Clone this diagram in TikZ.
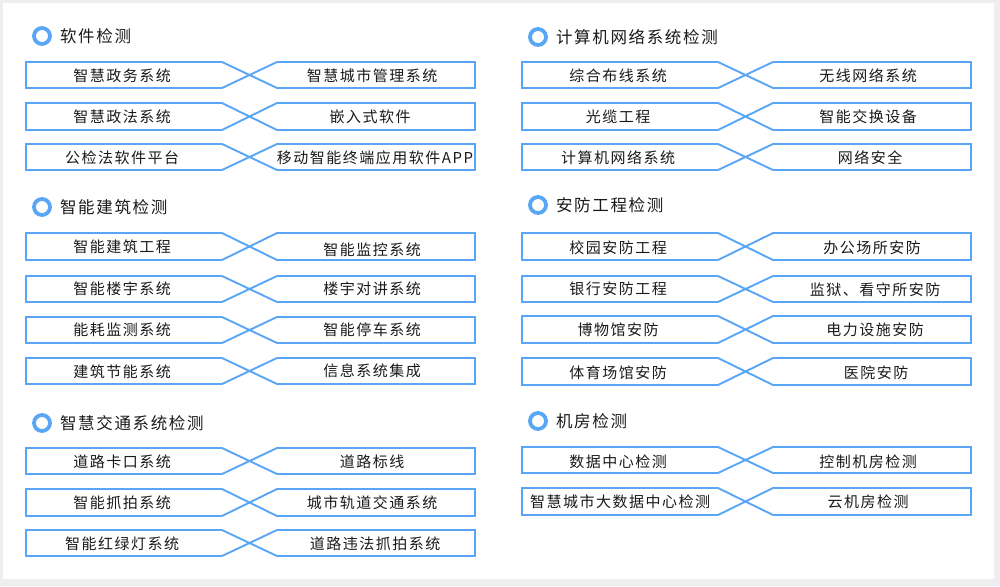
\documentclass[tikz,border=0pt]{standalone}
\usepackage{fontspec}
\setmainfont{Noto Sans CJK SC}
\newfontfamily\cjk[LetterSpace=10]{Noto Sans CJK SC}
\usetikzlibrary{positioning}

\definecolor{lineblue}{HTML}{5AA6F6}
\definecolor{txtgray}{HTML}{1A1A1A}
\definecolor{pagegray}{HTML}{EEEEF0}

% one pair: column offset, top, bottom
\newcommand{\crossbox}[3]{%
  \draw[pairline] (#1+26,-#2) -- (#1+222,-#2) -- (#1+277,-#3) -- (#1+475,-#3)
    -- (#1+475,-#2) -- (#1+277,-#2) -- (#1+222,-#3) -- (#1+26,-#3) -- cycle;}

\begin{document}
\begin{tikzpicture}[x=1pt,y=1pt,
    every node/.style={inner sep=0pt},
    pairline/.style={draw=lineblue,line width=1.9pt,line join=miter},
    item/.style={font=\cjk\fontsize{15}{15}\selectfont,text=txtgray},
    ring/.style={circle,draw=lineblue,line width=3.8pt,minimum size=16pt},
    heading/.style={font=\cjk\fontsize{16.5}{16.5}\selectfont,text=txtgray,anchor=west}]
			\fill[pagegray] (0,0) rectangle (1000,-586);
			\fill[white] (3,-3) rectangle (994,-579);
			% section heads
			\node[ring] (sw) at (42,-36) {};
			\node[heading,right=8pt of sw] (swhead) {软件检测};
			\node[ring] (bd) at (42,-207) {};
			\node[heading,right=8pt of bd] (bdhead) {智能建筑检测};
			\node[ring] (tf) at (42,-423) {};
			\node[heading,right=8pt of tf] (tfhead) {智慧交通系统检测};
			\node[ring] (nw) at (538,-37) {};
			\node[heading,right=8pt of nw] (nwhead) {计算机网络系统检测};
			\node[ring] (sf) at (538,-205) {};
			\node[heading,right=8pt of sf] (sfhead) {安防工程检测};
			\node[ring] (mr) at (538,-421) {};
			\node[heading,right=8pt of mr] (mrhead) {机房检测};
			% software
			\crossbox{0}{62}{88}
			\node[item] (swa1) at (122,-76) {智慧政务系统};
			\node[item] (swb1) at (372,-76) {智慧城市管理系统};
			\crossbox{0}{103}{130}
			\node[item] (swa2) at (122,-117) {智慧政法系统};
			\node[item] (swb2) at (370,-117) {嵌入式软件};
			\crossbox{0}{144}{170}
			\node[item] (swa3) at (122,-158) {公检法软件平台};
			\node[item] (swb3) at (375,-158) {移动智能终端应用软件APP};
			% building
			\crossbox{0}{233}{260}
			\node[item] (bda1) at (122,-247) {智能建筑工程};
			\node[item] (bdb1) at (372,-250) {智能监控系统};
			\crossbox{0}{276}{302}
			\node[item] (bda2) at (122,-289) {智能楼宇系统};
			\node[item] (bdb2) at (372,-289) {楼宇对讲系统};
			\crossbox{0}{317}{343}
			\node[item] (bda3) at (122,-330) {能耗监测系统};
			\node[item] (bdb3) at (372,-330) {智能停车系统};
			\crossbox{0}{358}{384}
			\node[item] (bda4) at (122,-372) {建筑节能系统};
			\node[item] (bdb4) at (372,-371) {信息系统集成};
			% traffic
			\crossbox{0}{448}{474}
			\node[item] (tfa1) at (122,-462) {道路卡口系统};
			\node[item] (tfb1) at (372,-462) {道路标线};
			\crossbox{0}{489}{516}
			\node[item] (tfa2) at (122,-503) {智能抓拍系统};
			\node[item] (tfb2) at (372,-503) {城市轨道交通系统};
			\crossbox{0}{530}{556}
			\node[item] (tfa3) at (122,-544) {智能红绿灯系统};
			\node[item] (tfb3) at (375,-544) {道路违法抓拍系统};
			% network
			\crossbox{496}{62}{88}
			\node[item] (nwa1) at (618,-76) {综合布线系统};
			\node[item] (nwb1) at (868,-76) {无线网络系统};
			\crossbox{496}{103}{130}
			\node[item] (nwa2) at (618,-117) {光缆工程};
			\node[item] (nwb2) at (868,-117) {智能交换设备};
			\crossbox{496}{144}{170}
			\node[item] (nwa3) at (618,-158) {计算机网络系统};
			\node[item] (nwb3) at (870,-158) {网络安全};
			% security
			\crossbox{496}{233}{260}
			\node[item] (sfa1) at (618,-248) {校园安防工程};
			\node[item] (sfb1) at (872,-248) {办公场所安防};
			\crossbox{496}{276}{302}
			\node[item] (sfa2) at (618,-289) {银行安防工程};
			\node[item] (sfb2) at (875,-290) {监狱、看守所安防};
			\crossbox{496}{316}{343}
			\node[item] (sfa3) at (618,-330) {博物馆安防};
			\node[item] (sfb3) at (875,-330) {电力设施安防};
			\crossbox{496}{358}{385}
			\node[item] (sfa4) at (618,-373) {体育场馆安防};
			\node[item] (sfb4) at (876,-373) {医院安防};
			% machine room
			\crossbox{496}{447}{473}
			\node[item] (mra1) at (618,-462) {数据中心检测};
			\node[item] (mrb1) at (868,-462) {控制机房检测};
			\crossbox{496}{488}{515}
			\node[item] (mra2) at (620,-502) {智慧城市大数据中心检测};
			\node[item] (mrb2) at (868,-502) {云机房检测};
\end{tikzpicture}
\end{document}
